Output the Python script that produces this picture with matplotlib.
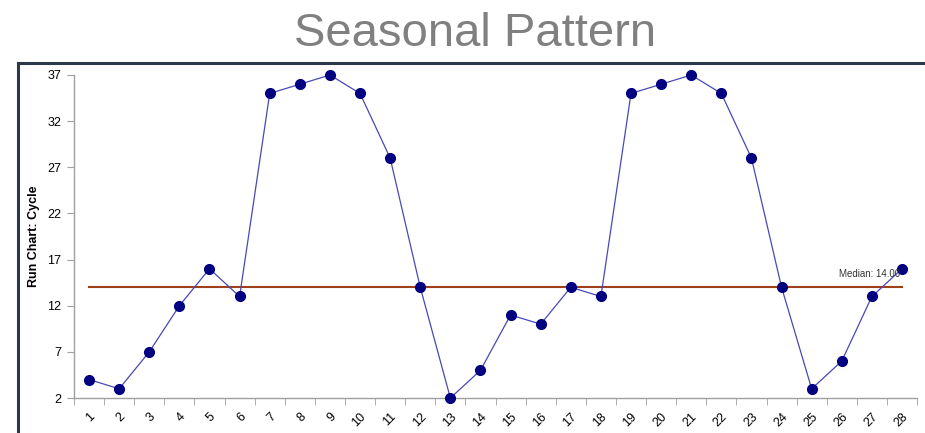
import numpy as np
import matplotlib.pyplot as plt
from matplotlib.lines import Line2D

plt.rcParams['font.family'] = ['Liberation Sans', 'DejaVu Sans']

samples = list(range(1, 29))
cycle = [4, 3, 7, 12, 16, 13, 35, 36, 37, 35, 28, 14, 2, 5,
         11, 10, 14, 13, 35, 36, 37, 35, 28, 14, 3, 6, 13, 16]
median = 14.0
y_ticks = [2, 7, 12, 17, 22, 27, 32, 37]

fig = plt.figure(figsize=(9.25, 4.33), dpi=100)
ax = fig.add_axes([0.08, 0.0808, 0.9114, 0.746])

# outer frame (only left and top edges are visible)
frame_col = '#2b3a4a'
fig.add_artist(Line2D([0.0195, 0.0195], [0, 0.8545], transform=fig.transFigure,
                      color=frame_col, lw=2.2))
fig.add_artist(Line2D([0.0195, 1.0], [0.8545, 0.8545], transform=fig.transFigure,
                      color=frame_col, lw=2.2))

fig.text(0.5135, 0.922, 'Seasonal Pattern', ha='center', va='center',
         fontsize=34, color='#808080')

ax.plot(samples, cycle, color='#4848b8', lw=0.9, marker='o', ms=7,
        mfc='#000080', mec='#000080', zorder=3, clip_on=False)
ax.plot([samples[0], samples[-1]], [median, median], color='#a0401a', lw=1.5, zorder=2)
ax.text(25.9, median + 0.9, f'Median: {median:.2f}', fontsize=7, color='#333333',
        ha='left', va='bottom', clip_on=False)

ax.set_xlim(0.5, 28.5)
ax.set_ylim(2, 37)
ax.set_yticks(y_ticks)
ax.set_xticks(samples)
ax.set_xticklabels([str(s) for s in samples], rotation=45, ha='right',
                   rotation_mode='anchor')
ax.set_xticks(np.arange(0.5, 29, 1), minor=True)
ax.tick_params(axis='x', which='major', length=0, labelsize=9, pad=9)
ax.tick_params(axis='x', which='minor', length=5, color='#a0a0a0', direction='out')
ax.tick_params(axis='y', length=5, color='#a0a0a0', labelsize=9, pad=4)

for sp in ['top', 'right']:
    ax.spines[sp].set_visible(False)
for sp in ['left', 'bottom']:
    ax.spines[sp].set_color('#a0a0a0')
    ax.spines[sp].set_linewidth(1)

ax.set_ylabel('Run Chart: Cycle', fontsize=9, fontweight='bold')
ax.yaxis.set_label_coords(-0.04, 0.5)

plt.savefig('out.png', dpi=100)
